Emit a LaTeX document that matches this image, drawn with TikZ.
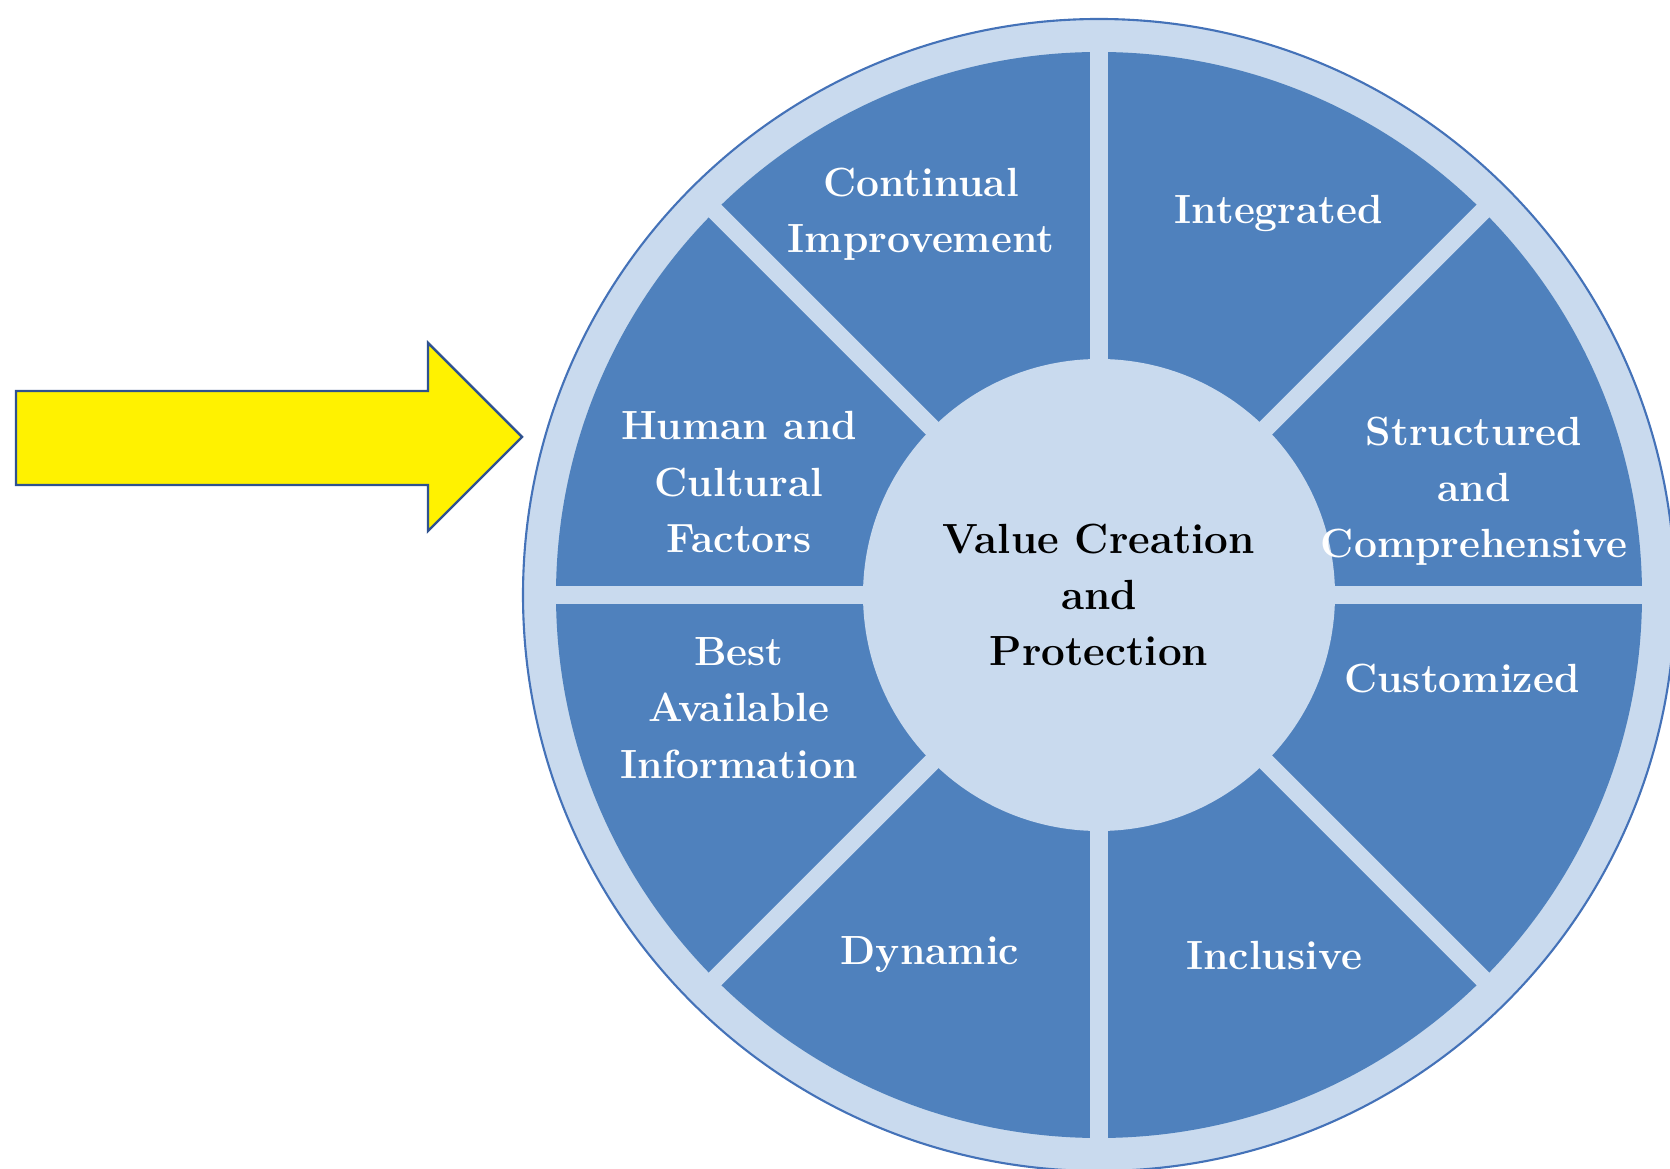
\documentclass[tikz,border=0pt]{standalone}
\usepackage{tikz}
\definecolor{wheeldark}{RGB}{79,129,189}
\definecolor{wheellight}{RGB}{201,218,238}
\definecolor{wheeledge}{RGB}{68,114,184}
\definecolor{arrowedge}{RGB}{47,82,143}

\begin{document}
\begin{tikzpicture}[x=0.1mm, y=-0.1mm,
  seg/.style={text=white, font=\fontsize{11.6}{16}\selectfont\bfseries, align=center},
  hub/.style={circle, fill=wheellight, minimum size=47.2mm, inner sep=0pt,
    font=\fontsize{12}{16}\selectfont\bfseries, align=center},
  gap/.style={draw=wheellight, line width=1.8mm},
  bigarrow/.style={fill=yellow, draw=arrowedge, line width=0.7pt, line join=miter}]
  \useasboundingbox (0,0) rectangle (1670,1169);
  \coordinate (c) at (1099,595);
  \filldraw[fill=wheellight, draw=wheeledge, line width=0.6pt] (c) circle[radius=576];
  \fill[wheeldark] (c) circle[radius=543];
  \foreach \a in {0,45,90,135}
    \draw[gap] (c) +(\a:566) -- +(\a+180:566);
  \node[hub] (value) at (c) {Value Creation\\and\\Protection};

  \node[seg] (cont)   at (921,214)  {Continual\\Improvement};
  \node[seg] (integ)  at (1279,213) {Integrated};
  \node[seg] (human)  at (739,482)  {Human and\\Cultural\\Factors};
  \node[seg] (struct) at (1474,491) {Structured\\and\\Comprehensive};
  \node[seg] (best)   at (739,708)  {Best\\Available\\Information};
  \node[seg] (custom) at (1462,679) {Customized};
  \node[seg] (dyn)    at (930,955)  {Dynamic};
  \node[seg] (incl)   at (1274,955) {Inclusive};

  \draw[bigarrow] (16,391) -- (428,391) -- (428,343) -- (522,437)
    -- (428,531) -- (428,485) -- (16,485) -- cycle;
\end{tikzpicture}
\end{document}
